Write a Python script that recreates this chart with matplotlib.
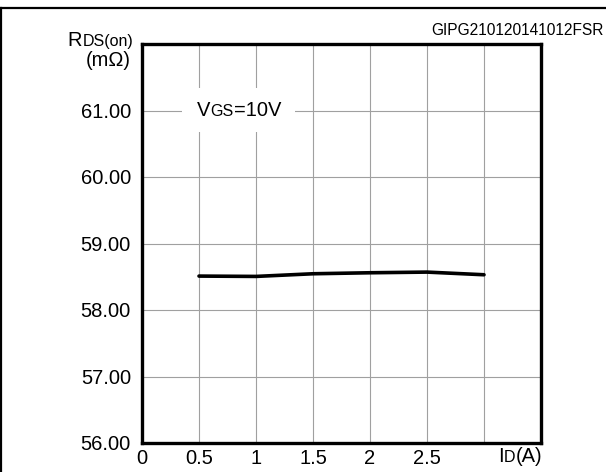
import matplotlib
matplotlib.use("Agg")
import matplotlib.pyplot as plt
from matplotlib.transforms import IdentityTransform
from matplotlib.patches import Rectangle
from matplotlib.lines import Line2D

# ---- data ----
current_a = [0.5, 1.0, 1.5, 2.0, 2.5, 3.0]
rds_mohm = [58.51, 58.505, 58.545, 58.56, 58.57, 58.53]
x_ticks = [0, 0.5, 1.0, 1.5, 2.0, 2.5, 3.0, 3.5]
x_tick_labels = ["0", "0.5", "1", "1.5", "2", "2.5", "", ""]
y_ticks = [56, 57, 58, 59, 60, 61, 62]
y_tick_labels = ["56.00", "57.00", "58.00", "59.00", "60.00", "61.00", ""]
code_label = "GIPG210120141012FSR"

plt.rcParams['font.family'] = ['Liberation Sans', 'DejaVu Sans']

W, H = 606, 472
fig = plt.figure(figsize=(W / 100, H / 100), dpi=100)
ax = fig.add_axes([142 / W, (H - 443) / H, (541 - 142) / W, (443 - 44) / H])

ax.set_xlim(0, 3.5)
ax.set_ylim(56, 62)
ax.set_xticks(x_ticks)
ax.set_xticklabels(x_tick_labels)
ax.set_yticks(y_ticks)
ax.set_yticklabels(y_tick_labels)
ax.tick_params(axis='both', length=0, labelsize=14.5, colors='black')
ax.tick_params(axis='y', pad=8)
ax.tick_params(axis='x', pad=4)
ax.grid(True, color='#a0a0a0', linewidth=0.8)
ax.set_axisbelow(True)
for sp in ax.spines.values():
    sp.set_linewidth(2.4)
    sp.set_color('black')

ax.plot(current_a, rds_mohm, color='black', linewidth=2.6, solid_capstyle='round', zorder=3)

# white box behind VGS label
ax.add_patch(Rectangle((0.35, 60.67), 0.99, 0.67, facecolor='white', edgecolor='none', zorder=1.5))

# outer frame
fig.add_artist(Line2D([0, 1], [(H - 8) / H, (H - 8) / H], transform=fig.transFigure, color='black', linewidth=1.6))
fig.add_artist(Line2D([1 / W, 1 / W], [0, (H - 8) / H], transform=fig.transFigure, color='black', linewidth=1.6))

fig.canvas.draw()
r = fig.canvas.get_renderer()
ident = IdentityTransform()


def mixed(pieces, x, ybase, ha='left', zorder=5):
    """pieces: list of (text, size); x, ybase in pixels from top-left."""
    texts = []
    widths = []
    for s, size in pieces:
        t = fig.text(0, 0, s, fontsize=size, transform=ident, va='baseline', ha='left', zorder=zorder)
        widths.append(t.get_window_extent(r).width)
        texts.append(t)
    total = sum(widths)
    if ha == 'right':
        x0 = x - total
    elif ha == 'center':
        x0 = x - total / 2
    else:
        x0 = x
    cx = x0
    for t, w in zip(texts, widths):
        t.set_position((cx, H - ybase))
        cx += w


mixed([("V", 14.5), ("GS", 11.5), ("=10V", 14.5)], 197, 116)
mixed([("R", 14.5), ("DS(on)", 11.5)], 133, 46, ha='right')
mixed([("(m\u03a9)", 14.5)], 131, 66, ha='right')
mixed([("I", 14.5), ("D", 11.5), ("(A)", 14.5)], 542, 462, ha='right')
fig.text(604 / W, (H - 35) / H, code_label, fontsize=11.2, ha='right', va='baseline')

fig.savefig("out.png", dpi=100)
